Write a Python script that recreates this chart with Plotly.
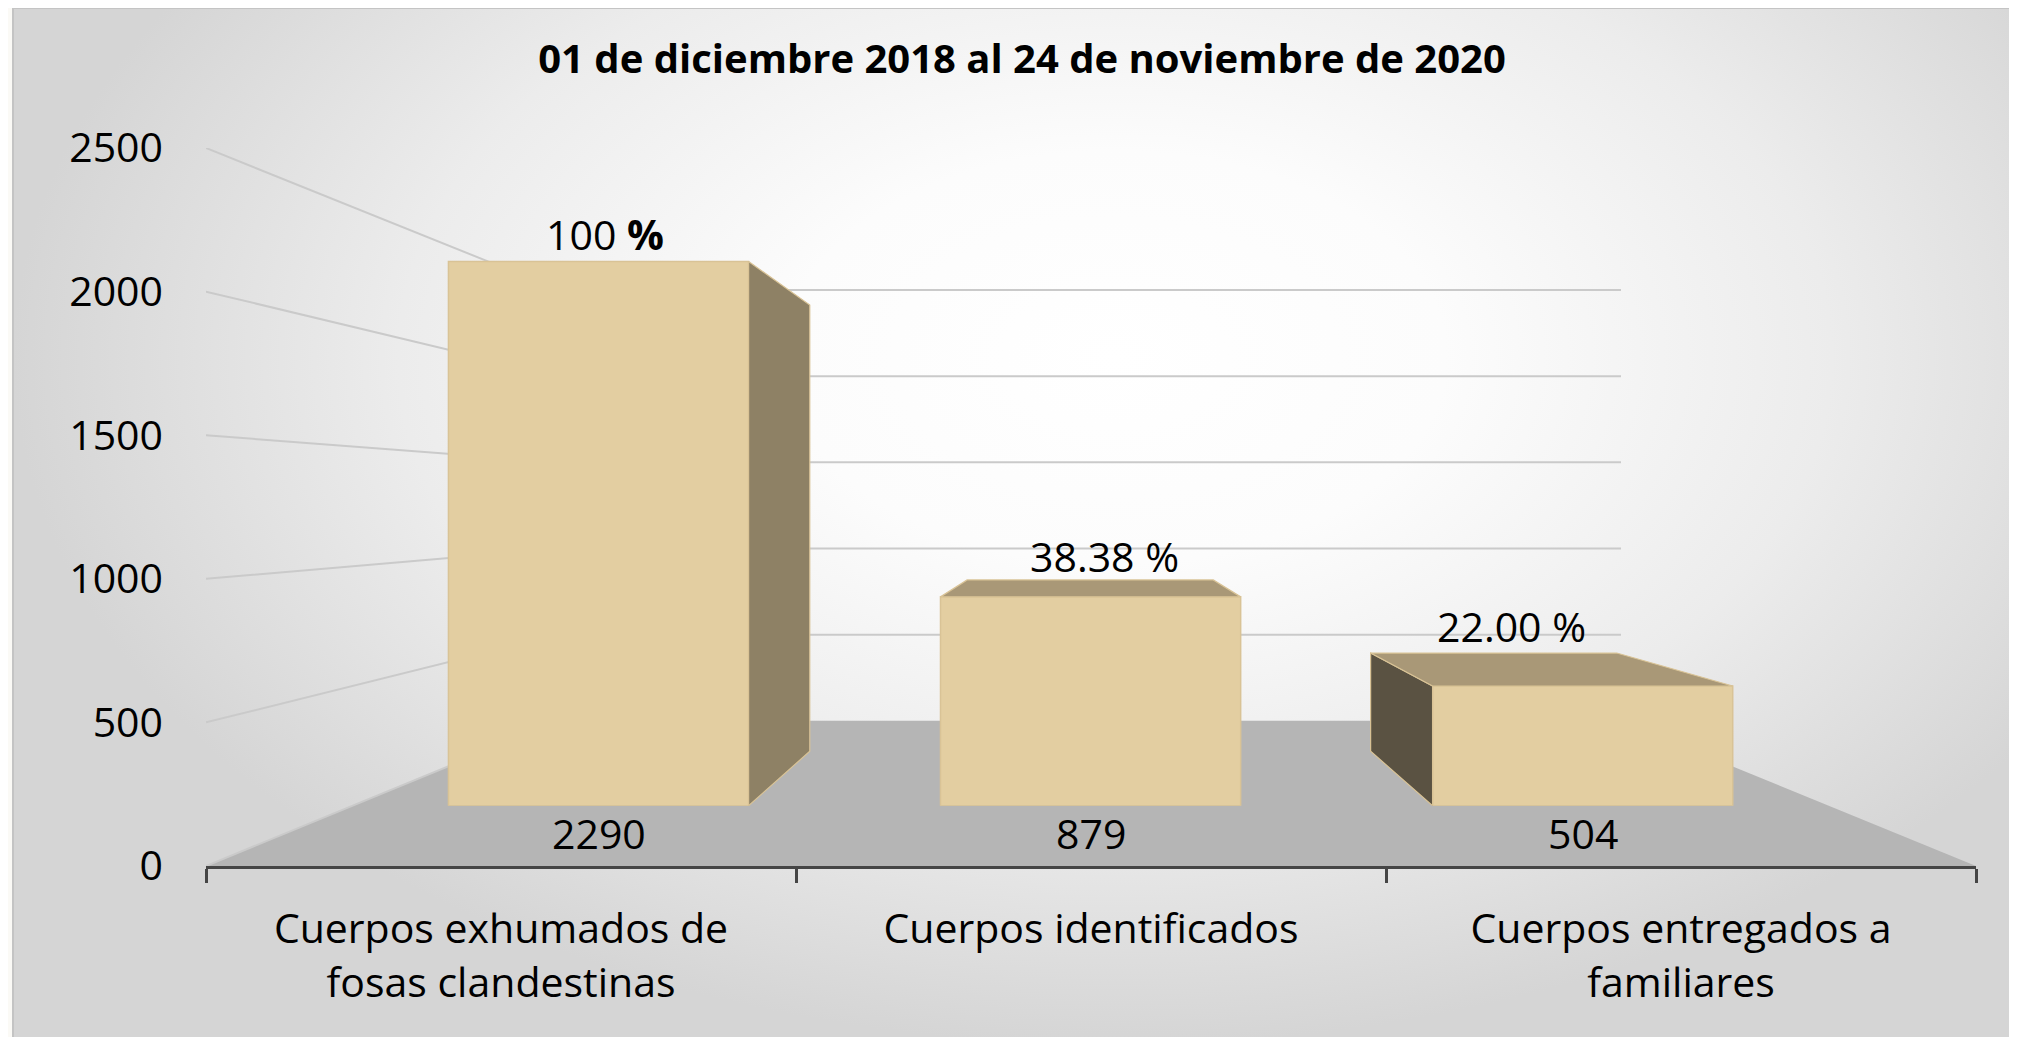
import plotly.graph_objects as go

CATEGORIES = [
    "Cuerpos exhumados de<br>fosas clandestinas",
    "Cuerpos identificados",
    "Cuerpos entregados a<br>familiares",
]
VALUES = [2290, 879, 504]
PERCENT_LABELS = ["100 <b>%</b>", "38.38 %", "22.00 %"]
Y_TICKS = [0, 500, 1000, 1500, 2000, 2500]
TITLE = "01 de diciembre 2018 al 24 de noviembre de 2020"

W, H = 2017, 1037
PAGE_OFF = 8  # default body margin of the html page
FONT = "Open Sans"

# pseudo-3d geometry (pixels of the page)
FRONT_L, FRONT_R = 206, 1976
FRONT_BOTTOM, FRONT_TOP = 866, 148
Y_MAX = 2500
VPX, VPY = 1088.5, 503
BAR_PLANE = 0.834
BAR_STRETCH = 1.008
BAR_BACK = 0.82
WALL_PLANE = 0.6
BAR_WIDTH = 0.61

# label nudges (px): (dx, dy above the bar top)
PCT_NUDGE = [(6, 28), (14, 41), (-71, 60)]

FRONT_COL = "#e3cea1"
EDGE_COL = "#d9c396"
TOP_COL = "#a99877"
RIGHT_SIDE_COL = "#8e8165"
LEFT_SIDE_COL = "#5a5242"
FLOOR_COL = "#b5b5b5"
GRID_COL = "#cacaca"


def fx(px):
    return (px - PAGE_OFF) / W


def fy(py):
    return 1 - (py - PAGE_OFF) / H


def toward_vp(px, py, s):
    return VPX + s * (px - VPX), VPY + s * (py - VPY)


bar_l, bar_b = toward_vp(FRONT_L, FRONT_BOTTOM, BAR_PLANE)
bar_r, bar_t = toward_vp(FRONT_R, FRONT_TOP, BAR_PLANE)
bar_ymax = Y_MAX * BAR_STRETCH

# vanishing point in data units
n = len(CATEGORIES)
vx = -0.5 + n * (VPX - FRONT_L) / (FRONT_R - FRONT_L)
vy_front = Y_MAX * (FRONT_BOTTOM - VPY) / (FRONT_BOTTOM - FRONT_TOP)
vy_bar = bar_ymax * (bar_b - VPY) / (bar_b - bar_t)


def proj(x, y, k, vy):
    return vx + k * (x - vx), vy + k * (y - vy)


fig = go.Figure()

# background gradient
fig.add_trace(go.Scatter(
    x=[13, 2217, 2217, 13, 13], y=[-330, -330, 1045, 1045, -330],
    fill="toself", mode="lines", line={"width": 0},
    fillgradient={"type": "radial", "colorscale": [
        [0, "#ffffff"], [0.3, "#fcfcfc"], [0.65, "#ececec"], [1, "#d5d5d5"]]},
    hoverinfo="skip", showlegend=False, xaxis="x", yaxis="y",
))

# floor
x0, x1 = -0.5, n - 0.5
bl = proj(x0, 0, WALL_PLANE, vy_front)
br = proj(x1, 0, WALL_PLANE, vy_front)
fig.add_trace(go.Scatter(
    x=[x0, x1, br[0], bl[0], x0], y=[0, 0, br[1], bl[1], 0],
    fill="toself", fillcolor=FLOOR_COL, mode="lines",
    line={"width": 0}, hoverinfo="skip", showlegend=False,
    xaxis="x2", yaxis="y2",
))

# wall gridlines
gx, gy = [x0, bl[0], None], [0, bl[1], None]
for v in Y_TICKS[1:]:
    a = proj(x0, v, WALL_PLANE, vy_front)
    b = proj(x1, v, WALL_PLANE, vy_front)
    gx += [x0, a[0], b[0], None]
    gy += [v, a[1], b[1], None]
fig.add_trace(go.Scatter(
    x=gx, y=gy, mode="lines", line={"color": GRID_COL, "width": 2},
    hoverinfo="skip", showlegend=False, xaxis="x2", yaxis="y2",
))

# bars (front faces)
fig.add_trace(go.Bar(
    x=list(range(n)), y=VALUES, width=BAR_WIDTH,
    marker={"color": FRONT_COL, "line": {"color": EDGE_COL, "width": 1.5}},
    hoverinfo="skip", showlegend=False, xaxis="x3", yaxis="y3",
))

# depth faces of each bar
half = BAR_WIDTH / 2
for i, v in enumerate(VALUES):
    l, r = i - half, i + half
    faces = []
    if r < vx:
        faces.append(([(r, 0), (r, v)], RIGHT_SIDE_COL))
    if l > vx:
        faces.append(([(l, 0), (l, v)], LEFT_SIDE_COL))
    if v < vy_bar:
        faces.append(([(l, v), (r, v)], TOP_COL))
    for (p, q), col in faces:
        pb, qb = proj(*q, BAR_BACK, vy_bar), proj(*p, BAR_BACK, vy_bar)
        fig.add_trace(go.Scatter(
            x=[p[0], q[0], pb[0], qb[0], p[0]],
            y=[p[1], q[1], pb[1], qb[1], p[1]],
            fill="toself", fillcolor=col, mode="lines",
            line={"color": EDGE_COL, "width": 1.2},
            hoverinfo="skip", showlegend=False, xaxis="x3", yaxis="y3",
        ))

annotations = []
for i, v in enumerate(VALUES):
    annotations.append({
        "x": i, "y": 0, "xref": "x3", "yref": "y3", "text": str(v),
        "showarrow": False, "yanchor": "top", "yshift": 3,
        "font": {"size": 41, "color": "#000000"},
    })
    dx, dy = PCT_NUDGE[i]
    annotations.append({
        "x": i, "y": v, "xref": "x3", "yref": "y3", "text": PERCENT_LABELS[i],
        "showarrow": False, "yanchor": "middle", "xshift": dx, "yshift": dy,
        "font": {"size": 41, "color": "#000000"},
    })

fig.update_layout(
    width=W, height=H,
    margin={"l": 0, "r": 0, "t": 0, "b": 0, "autoexpand": False},
    paper_bgcolor="#fbfaf6",
    plot_bgcolor="rgba(0,0,0,0)",
    font={"family": FONT, "color": "#000000", "size": 41},
    showlegend=False,
    title={
        "text": TITLE, "x": fx(1022), "xanchor": "center",
        "y": fy(59), "yanchor": "middle", "automargin": False,
        "font": {"size": 40, "weight": "bold", "color": "#000000"},
    },
    xaxis={"domain": [fx(13), 1], "range": [13, PAGE_OFF + W],
           "visible": False, "fixedrange": True, "automargin": False},
    yaxis={"domain": [0, fy(8)], "range": [PAGE_OFF + H, 8],
           "visible": False, "fixedrange": True, "automargin": False},
    xaxis2={
        "domain": [fx(FRONT_L), fx(FRONT_R)], "anchor": "y2",
        "automargin": False,
        "range": [x0, x1], "tickmode": "array",
        "tickvals": list(range(n)), "ticktext": CATEGORIES,
        "ticks": "", "ticklabelstandoff": 25,
        "showgrid": False, "zeroline": False,
        "showline": True, "linecolor": "#454545", "linewidth": 3,
        "minor": {"tickmode": "array",
                  "tickvals": [k - 0.5 for k in range(n + 1)],
                  "ticks": "outside", "ticklen": 14, "tickwidth": 3,
                  "tickcolor": "#454545", "showgrid": False},
    },
    yaxis2={
        "domain": [fy(FRONT_BOTTOM), fy(FRONT_TOP)], "anchor": "x2",
        "automargin": False,
        "range": [0, Y_MAX], "tickmode": "array", "tickvals": Y_TICKS,
        "ticks": "", "ticklabelstandoff": 42,
        "showgrid": False, "zeroline": False, "showline": False,
    },
    xaxis3={"domain": [fx(bar_l), fx(bar_r)], "anchor": "y3",
            "range": [x0, x1], "visible": False, "automargin": False},
    yaxis3={"domain": [fy(bar_b), fy(bar_t)], "anchor": "x3",
            "range": [0, bar_ymax], "visible": False, "automargin": False},
    annotations=annotations,
    shapes=[{
        "type": "rect", "xref": "paper", "yref": "paper",
        "x0": fx(13), "x1": 1.01, "y0": -0.01, "y1": fy(8),
        "line": {"color": "#c4c4c4", "width": 2},
    }],
)

fig.write_html("out.html")
